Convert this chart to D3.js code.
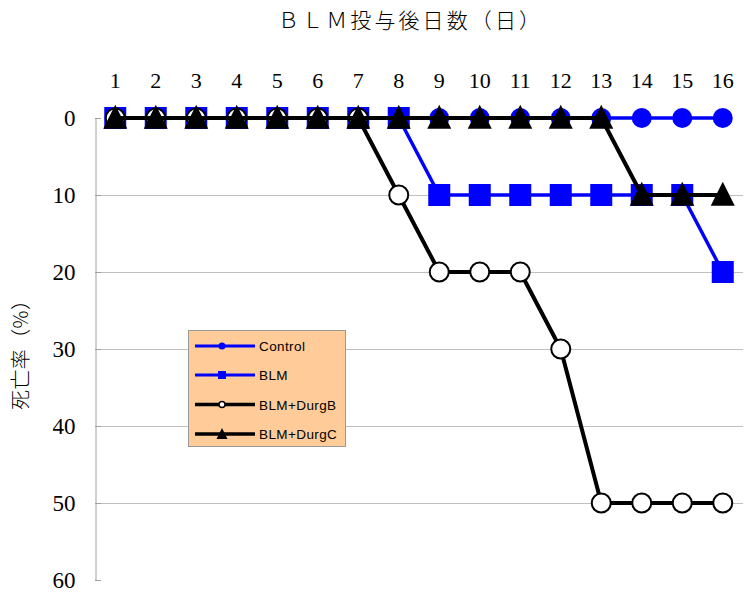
<!DOCTYPE html>
<html><head><meta charset="utf-8">
<script src="https://cdn.jsdelivr.net/npm/d3@7"></script>
<style>body{margin:0;background:#fff}svg{display:block}</style>
</head><body>
<svg id="c" width="756" height="597"></svg>
<script>
const days = ["1","2","3","4","5","6","7","8","9","10","11","12","13","14","15","16"];
const yTicks = [0,10,20,30,40,50,60];
const control = [0,0,0,0,0,0,0,0,0,0,0,0,0,0,0,0];
const blm     = [0,0,0,0,0,0,0,0,10,10,10,10,10,10,10,20];
const drugB   = [0,0,0,0,0,0,0,10,20,20,20,30,50,50,50,50];
const drugC   = [0,0,0,0,0,0,0,0,0,0,0,0,0,10,10,10];
const seriesNames = ["Control","BLM","BLM+DurgB","BLM+DurgC"];
const titleText = "ＢＬＭ投与後日数（日）";
const yLabelText = "死亡率（%）";

const svg = d3.select("#c");
const L = 95, R = 743, T = 118, B = 580;
const x = d3.scaleBand().domain(days).range([L, R]);
const y = d3.scaleLinear().domain([0, 60]).range([T, B]);
const cx = d => x(d) + x.bandwidth()/2;

// gridlines
svg.append("g").selectAll("line").data(yTicks.filter(t => t > 0 && t < 60)).join("line")
  .attr("x1", L).attr("x2", R).attr("y1", d => y(d)+0.5).attr("y2", d => y(d)+0.5)
  .attr("stroke", "#c0c0c0").attr("stroke-width", 1);

// y axis
const yAxis = d3.axisLeft(y).tickValues(yTicks).tickSize(0).tickPadding(20);
const gy = svg.append("g").attr("transform", `translate(${L+0.5},0)`).call(yAxis);
gy.select(".domain").attr("stroke", "#a0a0a0");
gy.selectAll("text").attr("font-family", "'Liberation Serif', serif").attr("font-size", 23).attr("fill", "#000");
svg.append("g").selectAll("line").data(yTicks).join("line")
  .attr("x1", L).attr("x2", L+6).attr("y1", d => y(d)+0.5).attr("y2", d => y(d)+0.5)
  .attr("stroke", "#a0a0a0");

// x axis labels on top
const xAxis = d3.axisTop(x).tickSize(0).tickPadding(0);
const gx = svg.append("g").attr("transform", `translate(0,88)`).call(xAxis);
gx.select(".domain").remove();
gx.selectAll("text").attr("font-family", "'Liberation Serif', serif").attr("font-size", 22).attr("fill", "#000");

// title
svg.append("text").attr("x", 409).attr("y", 28).attr("text-anchor", "middle")
  .attr("font-family", "'Noto Sans CJK JP', sans-serif").attr("font-size", 21).attr("font-weight", 300)
  .attr("textLength", 262).attr("lengthAdjust", "spacing")
  .text(titleText);

// y label
svg.append("text").attr("transform", "translate(28,350) rotate(-90)").attr("text-anchor", "middle")
  .attr("font-family", "'Noto Sans CJK JP', sans-serif").attr("font-size", 20).attr("font-weight", 300)
  .attr("textLength", 120).attr("lengthAdjust", "spacing")
  .text(yLabelText);

const line = d3.line().x((d,i) => cx(days[i])).y(d => y(d));

function drawLine(data, color, w) {
  svg.append("path").datum(data).attr("d", line).attr("fill", "none")
    .attr("stroke", color).attr("stroke-width", w).attr("stroke-linejoin", "round");
}
const tri = s => `M0,${-s*0.55} L${s/2},${s*0.45} L${-s/2},${s*0.45} Z`;

// Control
drawLine(control, "#0000ff", 3.5);
svg.append("g").selectAll("circle").data(control).join("circle")
  .attr("cx", (d,i) => cx(days[i])).attr("cy", d => y(d)).attr("r", 10).attr("fill", "#0000ff");
// BLM
drawLine(blm, "#0000ff", 3.5);
svg.append("g").selectAll("rect").data(blm).join("rect")
  .attr("x", (d,i) => cx(days[i]) - 11).attr("y", d => y(d) - 11).attr("width", 22).attr("height", 22).attr("fill", "#0000ff");
// DrugB
drawLine(drugB, "#000", 4);
svg.append("g").selectAll("circle").data(drugB).join("circle")
  .attr("cx", (d,i) => cx(days[i])).attr("cy", d => y(d)).attr("r", 9.5)
  .attr("fill", "#fff").attr("stroke", "#000").attr("stroke-width", 2);
// DrugC
drawLine(drugC, "#000", 4);
svg.append("g").selectAll("path").data(drugC).join("path")
  .attr("transform", (d,i) => `translate(${cx(days[i])},${y(d)})`).attr("d", tri(24)).attr("fill", "#000");

// legend
const lg = svg.append("g");
lg.append("rect").attr("x", 188.5).attr("y", 330.5).attr("width", 157).attr("height", 116)
  .attr("fill", "#ffcc99").attr("stroke", "#999");
const rowsY = [346, 375, 404.5, 434];
const colors = ["#0000ff","#0000ff","#000","#000"];
seriesNames.forEach((n, i) => {
  const yy = rowsY[i];
  lg.append("line").attr("x1", 195).attr("x2", 255).attr("y1", yy).attr("y2", yy)
    .attr("stroke", colors[i]).attr("stroke-width", i < 2 ? 3 : 3.5);
  if (i === 0) lg.append("circle").attr("cx", 222).attr("cy", yy).attr("r", 3.5).attr("fill", "#0000ff");
  if (i === 1) lg.append("rect").attr("x", 218).attr("y", yy-4).attr("width", 8).attr("height", 8).attr("fill", "#0000ff");
  if (i === 2) lg.append("circle").attr("cx", 222).attr("cy", yy).attr("r", 3).attr("fill", "#fff").attr("stroke", "#000").attr("stroke-width", 1.5);
  if (i === 3) lg.append("path").attr("transform", `translate(222,${yy})`).attr("d", tri(11)).attr("fill", "#000");
  lg.append("text").attr("x", 259).attr("y", yy + 5).attr("font-family", "'Liberation Sans', Arial, sans-serif")
    .attr("font-size", 13.5).attr("letter-spacing", 0.4).text(n);
});
</script>
</body></html>
